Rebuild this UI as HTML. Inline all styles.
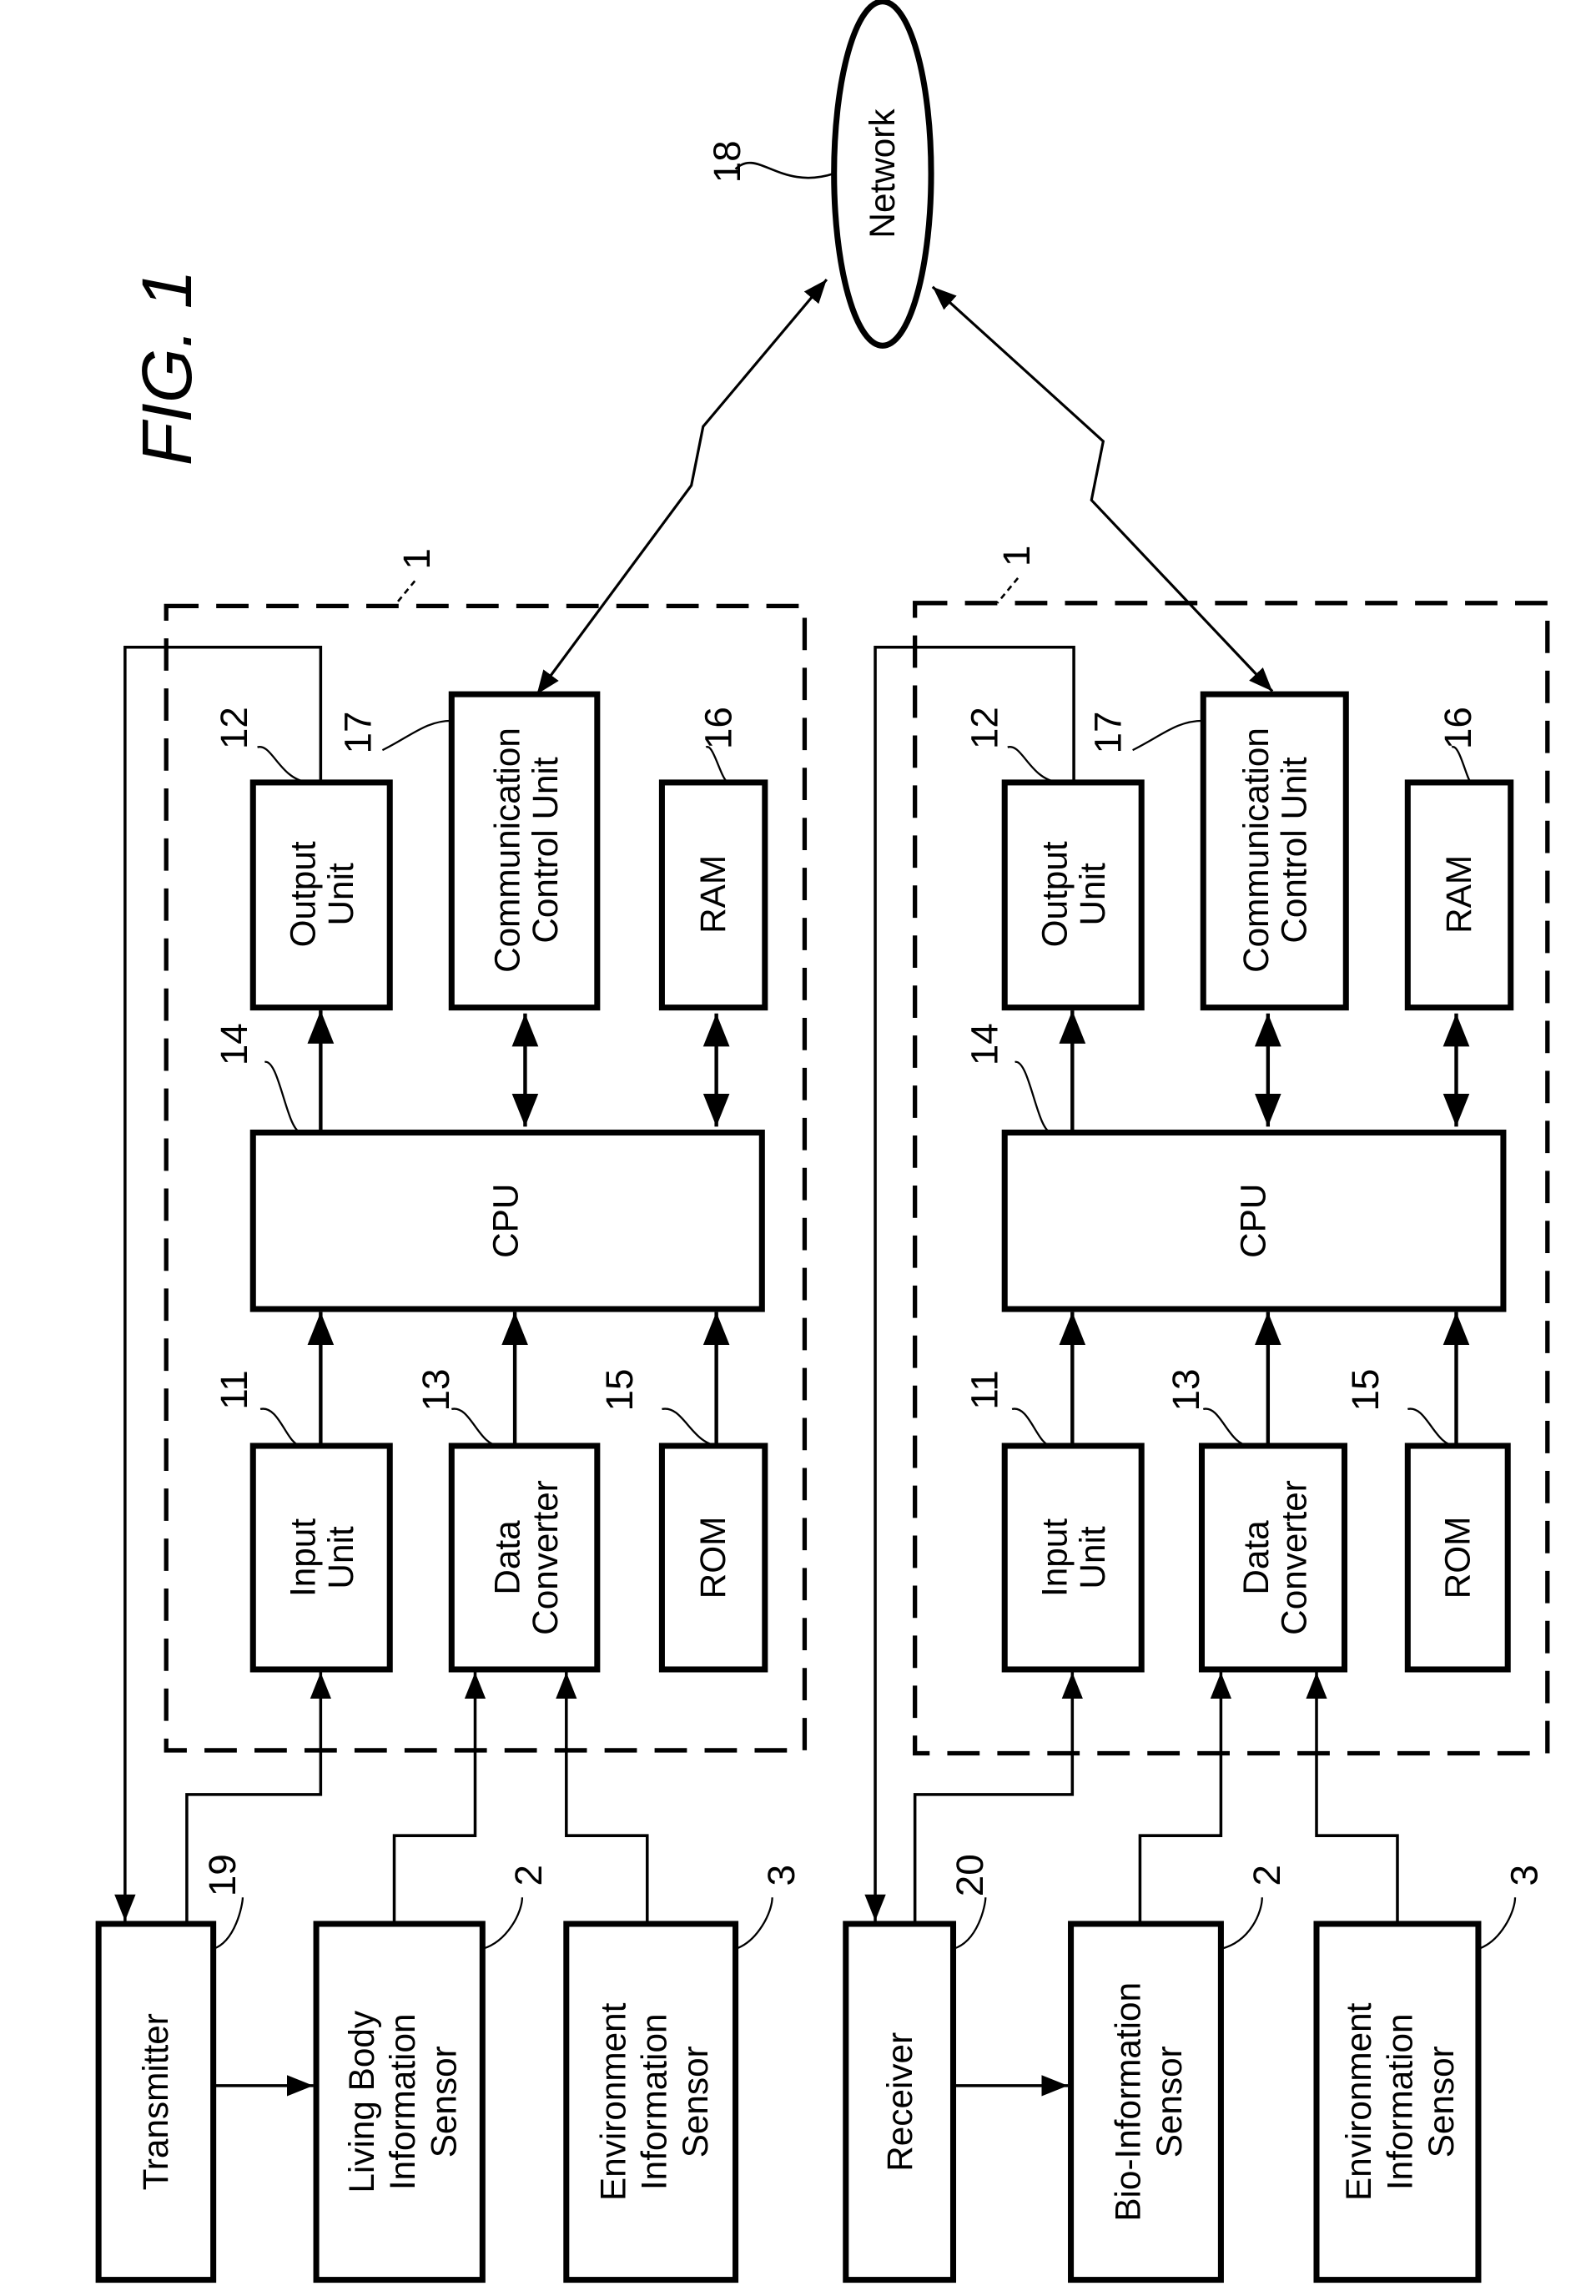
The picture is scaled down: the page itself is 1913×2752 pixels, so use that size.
<!DOCTYPE html>
<html><head><meta charset="utf-8"><style>
html,body{margin:0;padding:0;background:#fff}
svg{display:block}
text{font-family:"Liberation Sans Narrow","Liberation Sans",sans-serif;fill:#000}
</style></head><body>
<svg width="1913" height="2752" viewBox="0 0 1085 1561" preserveAspectRatio="none" xmlns="http://www.w3.org/2000/svg">
<defs>
<marker id="a" viewBox="0 0 10 10" refX="10" refY="5" markerWidth="5" markerHeight="5" orient="auto-start-reverse"><path d="M0,0L10,5L0,10z" fill="#000"/></marker>
<marker id="s" viewBox="0 0 10 10" refX="10" refY="5" markerWidth="9" markerHeight="9" orient="auto-start-reverse"><path d="M0,1L10,5L0,9z" fill="#000"/></marker>
</defs>
<g fill="none" stroke="#000">
<!-- network -->
<ellipse cx="600" cy="118" rx="33" ry="117" stroke-width="4"/>
<path d="M500,115 C515,100 530,130 567,118" stroke-width="1.5"/>
<path d="M562,190 L478,290 L470,330 L365,472" stroke-width="1.8" marker-start="url(#s)" marker-end="url(#s)"/>
<path d="M634,195 L750,300 L742,340 L865,470" stroke-width="1.8" marker-start="url(#s)" marker-end="url(#s)"/>
</g>
<text transform="translate(608,118) rotate(-90)" text-anchor="middle" font-size="24">Network</text>
<text transform="translate(503,110) rotate(-90)" text-anchor="middle" font-size="26">18</text>
<text transform="translate(130,250) rotate(-90)" text-anchor="middle" font-size="48" font-style="italic">FIG. 1</text>

<!-- TOP DIAGRAM -->
<g id="top">
<g fill="none" stroke="#000">
<rect x="113" y="412" width="434" height="778" stroke-width="3" stroke-dasharray="22,12"/>
<path d="M282,395 L268,412" stroke-width="1.5" stroke-dasharray="4,3"/>
<g stroke-width="4">
<rect x="67" y="1308" width="78" height="242"/>
<rect x="215" y="1308" width="113" height="242"/>
<rect x="385" y="1308" width="115" height="242"/>
<rect x="172" y="983" width="93" height="152"/>
<rect x="307" y="983" width="99" height="152"/>
<rect x="450" y="983" width="70" height="152"/>
<rect x="172" y="770" width="346" height="120"/>
<rect x="172" y="532" width="93" height="153"/>
<rect x="307" y="472" width="99" height="213"/>
<rect x="450" y="532" width="70" height="153"/>
</g>
<g stroke-width="2.5">
<path d="M218,983 L218,892" marker-end="url(#s)"/>
<path d="M350,983 L350,892" marker-end="url(#s)"/>
<path d="M487,983 L487,892" marker-end="url(#s)"/>
<path d="M218,770 L218,687" marker-end="url(#s)"/>
<path d="M357,689 L357,766" marker-start="url(#s)" marker-end="url(#s)"/>
<path d="M487,689 L487,766" marker-start="url(#s)" marker-end="url(#s)"/>
</g>
<g stroke-width="2">
<path d="M218,532 L218,440 L85,440 L85,1306" marker-end="url(#s)"/>
<path d="M127,1308 L127,1220 L218,1220 L218,1137" marker-end="url(#s)"/>
<path d="M268,1308 L268,1248 L323,1248 L323,1137" marker-end="url(#s)"/>
<path d="M440,1308 L440,1248 L385,1248 L385,1137" marker-end="url(#s)"/>
<path d="M145,1418 L213,1418" marker-end="url(#s)"/>
</g>
<g stroke-width="1.3">
<path d="M175,508 C185,505 190,530 210,532"/>
<path d="M260,510 C280,500 290,490 307,490"/>
<path d="M480,508 C485,505 490,530 495,532"/>
<path d="M180,722 C190,720 195,770 205,770"/>
<path d="M177,958 C190,955 195,983 205,983"/>
<path d="M307,958 C320,955 325,983 340,983"/>
<path d="M450,958 C465,955 470,983 490,983"/>
<path d="M145,1325 C160,1320 165,1295 165,1290"/>
<path d="M328,1325 C345,1320 355,1300 355,1290"/>
<path d="M500,1325 C515,1320 525,1300 525,1290"/>
</g>
</g>
<g font-size="24" text-anchor="middle">
<text transform="translate(218,608) rotate(-90)"><tspan x="0" dy="-4">Output</tspan><tspan x="0" dy="26">Unit</tspan></text>
<text transform="translate(357,578) rotate(-90)"><tspan x="0" dy="-4">Communication</tspan><tspan x="0" dy="26">Control Unit</tspan></text>
<text transform="translate(493,608) rotate(-90)">RAM</text>
<text transform="translate(352,830) rotate(-90)">CPU</text>
<text transform="translate(218,1059) rotate(-90)"><tspan x="0" dy="-4">Input</tspan><tspan x="0" dy="26">Unit</tspan></text>
<text transform="translate(357,1059) rotate(-90)"><tspan x="0" dy="-4">Data</tspan><tspan x="0" dy="26">Converter</tspan></text>
<text transform="translate(493,1059) rotate(-90)">ROM</text>
<text transform="translate(114,1429) rotate(-90)">Transmitter</text>
<text transform="translate(272,1429) rotate(-90)"><tspan x="0" dy="-18">Living Body</tspan><tspan x="0" dy="28">Information</tspan><tspan x="0" dy="28">Sensor</tspan></text>
<text transform="translate(443,1429) rotate(-90)"><tspan x="0" dy="-18">Environment</tspan><tspan x="0" dy="28">Information</tspan><tspan x="0" dy="28">Sensor</tspan></text>
</g>
<g font-size="26" text-anchor="middle">
<text transform="translate(168,495) rotate(-90)">12</text>
<text transform="translate(252,498) rotate(-90)">17</text>
<text transform="translate(497,495) rotate(-90)">16</text>
<text transform="translate(168,710) rotate(-90)">14</text>
<text transform="translate(168,945) rotate(-90)">11</text>
<text transform="translate(305,945) rotate(-90)">13</text>
<text transform="translate(430,945) rotate(-90)">15</text>
<text transform="translate(160,1275) rotate(-90)">19</text>
<text transform="translate(368,1275) rotate(-90)">2</text>
<text transform="translate(540,1275) rotate(-90)">3</text>
<text transform="translate(292,380) rotate(-90)">1</text>
</g>
</g>

<!-- BOTTOM DIAGRAM -->
<g>
<g fill="none" stroke="#000">
<rect x="622" y="410" width="430" height="782" stroke-width="3" stroke-dasharray="22,12"/>
<path d="M692,393 L678,410" stroke-width="1.5" stroke-dasharray="4,3"/>
<g stroke-width="4">
<rect x="575" y="1308" width="73" height="242"/>
<rect x="728" y="1308" width="102" height="242"/>
<rect x="895" y="1308" width="110" height="242"/>
<rect x="683" y="983" width="93" height="152"/>
<rect x="817" y="983" width="97" height="152"/>
<rect x="957" y="983" width="68" height="152"/>
<rect x="683" y="770" width="339" height="120"/>
<rect x="683" y="532" width="93" height="153"/>
<rect x="818" y="472" width="97" height="213"/>
<rect x="957" y="532" width="70" height="153"/>
</g>
<g stroke-width="2.5">
<path d="M729,983 L729,892" marker-end="url(#s)"/>
<path d="M862,983 L862,892" marker-end="url(#s)"/>
<path d="M990,983 L990,892" marker-end="url(#s)"/>
<path d="M729,770 L729,687" marker-end="url(#s)"/>
<path d="M862,689 L862,766" marker-start="url(#s)" marker-end="url(#s)"/>
<path d="M990,689 L990,766" marker-start="url(#s)" marker-end="url(#s)"/>
</g>
<g stroke-width="2">
<path d="M730,532 L730,440 L595,440 L595,1306" marker-end="url(#s)"/>
<path d="M622,1308 L622,1220 L729,1220 L729,1137" marker-end="url(#s)"/>
<path d="M775,1308 L775,1248 L830,1248 L830,1137" marker-end="url(#s)"/>
<path d="M950,1308 L950,1248 L895,1248 L895,1137" marker-end="url(#s)"/>
<path d="M648,1418 L726,1418" marker-end="url(#s)"/>
</g>
<g stroke-width="1.3">
<path d="M685,508 C695,505 700,530 720,532"/>
<path d="M770,510 C790,500 800,490 818,490"/>
<path d="M987,508 C992,505 997,530 1000,532"/>
<path d="M690,722 C700,720 705,770 715,770"/>
<path d="M688,958 C700,955 705,983 715,983"/>
<path d="M818,958 C830,955 835,983 850,983"/>
<path d="M957,958 C970,955 975,983 990,983"/>
<path d="M648,1325 C665,1320 670,1295 670,1290"/>
<path d="M830,1325 C850,1320 858,1300 858,1290"/>
<path d="M1005,1325 C1020,1320 1030,1300 1030,1290"/>
</g>
</g>
<g font-size="24" text-anchor="middle">
<text transform="translate(729,608) rotate(-90)"><tspan x="0" dy="-4">Output</tspan><tspan x="0" dy="26">Unit</tspan></text>
<text transform="translate(866,578) rotate(-90)"><tspan x="0" dy="-4">Communication</tspan><tspan x="0" dy="26">Control Unit</tspan></text>
<text transform="translate(1000,608) rotate(-90)">RAM</text>
<text transform="translate(860,830) rotate(-90)">CPU</text>
<text transform="translate(729,1059) rotate(-90)"><tspan x="0" dy="-4">Input</tspan><tspan x="0" dy="26">Unit</tspan></text>
<text transform="translate(866,1059) rotate(-90)"><tspan x="0" dy="-4">Data</tspan><tspan x="0" dy="26">Converter</tspan></text>
<text transform="translate(999,1059) rotate(-90)">ROM</text>
<text transform="translate(620,1429) rotate(-90)">Receiver</text>
<text transform="translate(779,1429) rotate(-90)"><tspan x="0" dy="-4">Bio-Information</tspan><tspan x="0" dy="28">Sensor</tspan></text>
<text transform="translate(950,1429) rotate(-90)"><tspan x="0" dy="-18">Environment</tspan><tspan x="0" dy="28">Information</tspan><tspan x="0" dy="28">Sensor</tspan></text>
</g>
<g font-size="26" text-anchor="middle">
<text transform="translate(678,495) rotate(-90)">12</text>
<text transform="translate(762,498) rotate(-90)">17</text>
<text transform="translate(1000,495) rotate(-90)">16</text>
<text transform="translate(678,710) rotate(-90)">14</text>
<text transform="translate(678,945) rotate(-90)">11</text>
<text transform="translate(815,945) rotate(-90)">13</text>
<text transform="translate(937,945) rotate(-90)">15</text>
<text transform="translate(668,1275) rotate(-90)">20</text>
<text transform="translate(870,1275) rotate(-90)">2</text>
<text transform="translate(1045,1275) rotate(-90)">3</text>
<text transform="translate(700,378) rotate(-90)">1</text>
</g>
</g>
</svg>
</body></html>
